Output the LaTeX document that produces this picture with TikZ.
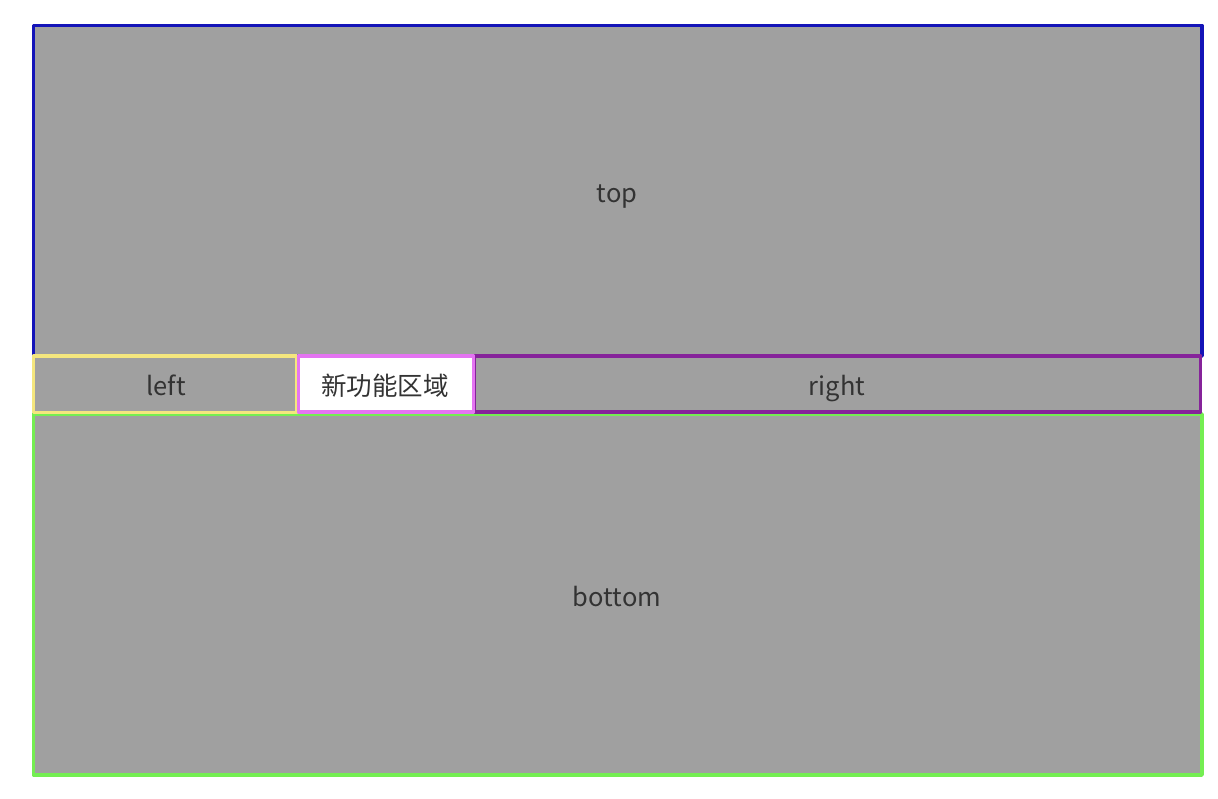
\documentclass[tikz,border=0pt]{standalone}
\usepackage{fontspec}
\setmainfont{Noto Sans CJK SC}
\definecolor{fillgray}{HTML}{A0A0A0}
\definecolor{txt}{HTML}{333333}
\definecolor{cblue}{HTML}{1414B8}
\definecolor{cyellow}{HTML}{F4E67E}
\definecolor{cgreen}{HTML}{74EE52}
\definecolor{cpurple}{HTML}{86239A}
\definecolor{cpink}{HTML}{E474F2}
\begin{document}
\begin{tikzpicture}[x=1pt,y=-1pt,
  region/.style={fill=fillgray,line width=3.5pt,line join=round},
  lbl/.style={text=txt,font=\fontsize{25.5}{28}\selectfont,inner sep=0pt,
    text height=0.8em,text depth=0.2em}]
\useasboundingbox[fill=white] (0,0) rectangle (1218,798);
\draw[region,draw=cblue] (33.5,25.5) rectangle (1202,356);
\draw[region,draw=cgreen] (33.5,414) rectangle (1202,775);
\draw[region,draw=cyellow] (33.5,356) rectangle (297,412.5);
\draw[region,draw=cpurple] (474,356) rectangle (1200.5,412);
\draw[line width=3.5pt,fill=white,draw=cpink,line join=round] (298.5,356) rectangle (473.5,412);
\node[lbl] (top) at (617,199) {top};
\node[lbl] (left) at (166,392) {left};
\node[lbl] (newf) at (385,392) {新功能区域};
\node[lbl] (right) at (837,392) {right};
\node[lbl] (bottom) at (617,603) {bottom};
\end{tikzpicture}
\end{document}
